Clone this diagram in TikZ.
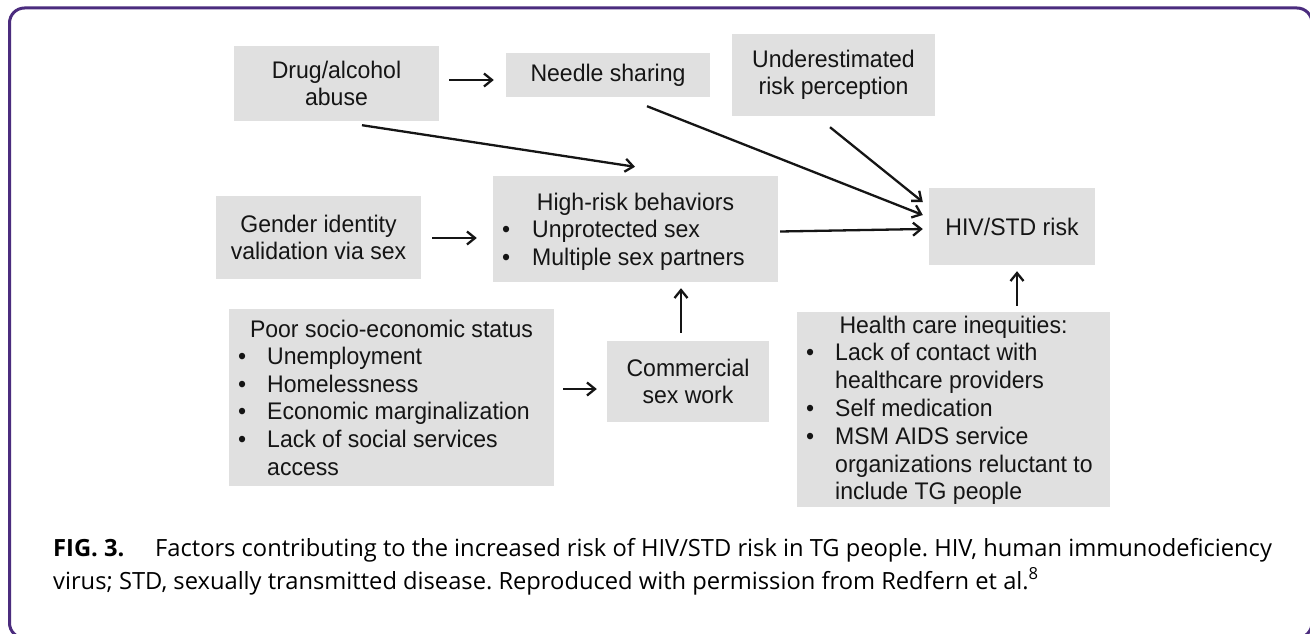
\documentclass[tikz,border=0pt]{standalone}
\usepackage{fontspec}
\setmainfont[FakeStretch=0.96]{Liberation Sans}
\newfontfamily\capfont{Open Sans}
\usetikzlibrary{arrows.meta}
\definecolor{boxgray}{HTML}{E0E0E0}
\definecolor{ink}{HTML}{151515}
\definecolor{framepurple}{HTML}{4B2C7E}
\tikzset{
  box/.style={fill=boxgray, draw=none, inner sep=0pt, align=center, text=ink,
    font=\fontsize{24}{26.5}\selectfont},
  arr/.style={draw=ink, line width=2.3pt,
    -{Straight Barb[length=8pt,width=13pt,line width=2.3pt]}},
  tl/.style={anchor=base west, inner sep=0pt, text=ink, font=\fontsize{24}{26.5}\selectfont},
  tc/.style={anchor=base, inner sep=0pt, text=ink, font=\fontsize{24}{26.5}\selectfont},
  captext/.style={anchor=base west, inner sep=0pt, text=black, font=\capfont\fontsize{23.7}{30}\selectfont\frenchspacing},
}
\begin{document}
\begin{tikzpicture}[x=1pt,y=-1pt]
\useasboundingbox (0,0) rectangle (1310,634);
\fill[white] (0,0) rectangle (1310,634);
\begin{scope}
  \clip (0,0) rectangle (1310,634);
  \draw[framepurple, line width=3pt, rounded corners=15pt] (9.5,8) rectangle (1312,638);
\end{scope}

% boxes
\node[box, minimum width=205pt, minimum height=75pt] (drug) at (336.5,83.5) {Drug/alcohol\\abuse};
\node[box, minimum width=204pt, minimum height=44pt] (needle) at (608,75) {Needle sharing};
\node[box, minimum width=203pt, minimum height=82pt] (under) at (833.5,75) {Underestimated\\risk perception};
\node[box, minimum width=205pt, minimum height=83pt] (gender) at (318.5,237.5) {Gender identity\\validation via sex};
\node[box, minimum width=285pt, minimum height=106pt] (high) at (635.5,229) {};
\node[box, minimum width=166pt, minimum height=77pt] (hiv) at (1012,226.5) {HIV/STD risk};
\node[box, minimum width=325pt, minimum height=177pt] (poor) at (391.5,397.5) {};
\node[box, minimum width=162pt, minimum height=81pt] (comm) at (688,381.5) {Commercial\\sex work};
\node[box, minimum width=313pt, minimum height=195pt] (health) at (953.5,409.5) {};

% high-risk text
\node[tc] (high-h) at (635.5,210) {High-risk behaviors};
\node[tl] (high-b1) at (502,237) {\textbullet};
\node[tl] (high-t1) at (532,237) {Unprotected sex};
\node[tl] (high-b2) at (502,265) {\textbullet};
\node[tl] (high-t2) at (532,265) {Multiple sex partners};

% poor text
\node[tc] (poor-h) at (391.5,337) {Poor socio-economic status};
\node[tl] (poor-b1) at (238,364.6) {\textbullet};
\node[tl] (poor-t1) at (267,364.6) {Unemployment};
\node[tl] (poor-b2) at (238,392.2) {\textbullet};
\node[tl] (poor-t2) at (267,392.2) {Homelessness};
\node[tl] (poor-b3) at (238,419.8) {\textbullet};
\node[tl] (poor-t3) at (267,419.8) {Economic marginalization};
\node[tl] (poor-b4) at (238,447.4) {\textbullet};
\node[tl] (poor-t4) at (267,447.4) {Lack of social services};
\node[tl] (poor-t5) at (267,475) {access};

% health text
\node[tc] (health-h) at (953.5,333) {Health care inequities:};
\node[tl] (health-b1) at (806,360.8) {\textbullet};
\node[tl] (health-t1) at (835,360.8) {Lack of contact with};
\node[tl] (health-t2) at (835,388.6) {healthcare providers};
\node[tl] (health-b3) at (806,416.4) {\textbullet};
\node[tl] (health-t3) at (835,416.4) {Self medication};
\node[tl] (health-b4) at (806,444.2) {\textbullet};
\node[tl] (health-t4) at (835,444.2) {MSM AIDS service};
\node[tl] (health-t5) at (835,472) {organizations reluctant to};
\node[tl] (health-t6) at (835,499.8) {include TG people};

% arrows
\draw[arr] ([xshift=10pt,yshift=3.5pt]drug.east) -- ([xshift=-12pt,yshift=-5pt]needle.west);
\draw[arr] ([xshift=25.5pt,yshift=-4pt]drug.south) -- ([xshift=-0.5pt,yshift=9pt]high.north);
\draw[arr] ([xshift=39pt,yshift=-9pt]needle.south) -- ([xshift=-6pt,yshift=11.5pt]hiv.west);
\draw[arr] ([xshift=-3.5pt,yshift=-11pt]under.south) -- ([xshift=-6pt,yshift=24.5pt]hiv.west);
\draw[arr] ([xshift=2pt,yshift=-2.5pt]high.east) -- ([xshift=-6pt,yshift=-2.5pt]hiv.west);
\draw[arr] ([xshift=11pt,yshift=-0.5pt]gender.east) -- ([xshift=-16pt,yshift=-9pt]high.west);
\draw[arr] ([xshift=9pt,yshift=8.5pt]poor.east) -- ([xshift=-10pt,yshift=-7.5pt]comm.west);
\draw[arr] ([xshift=-7pt,yshift=8pt]comm.north) -- ([xshift=45.5pt,yshift=-6pt]high.south);
\draw[arr] ([xshift=63.5pt,yshift=6pt]health.north) -- ([xshift=5pt,yshift=-6pt]hiv.south);

% caption
\node[captext] (cap-fig) at (53,556) {\bfseries FIG. 3.};
\node[captext] (cap-l1) at (155,556) {Factors contributing to the increased risk of HIV/STD risk in TG people. HIV, human immunodeficiency};
\node[captext] (cap-l2) at (53,589) {virus; STD, sexually transmitted disease. Reproduced with permission from Redfern et al.\textsuperscript{8}};
\end{tikzpicture}
\end{document}
